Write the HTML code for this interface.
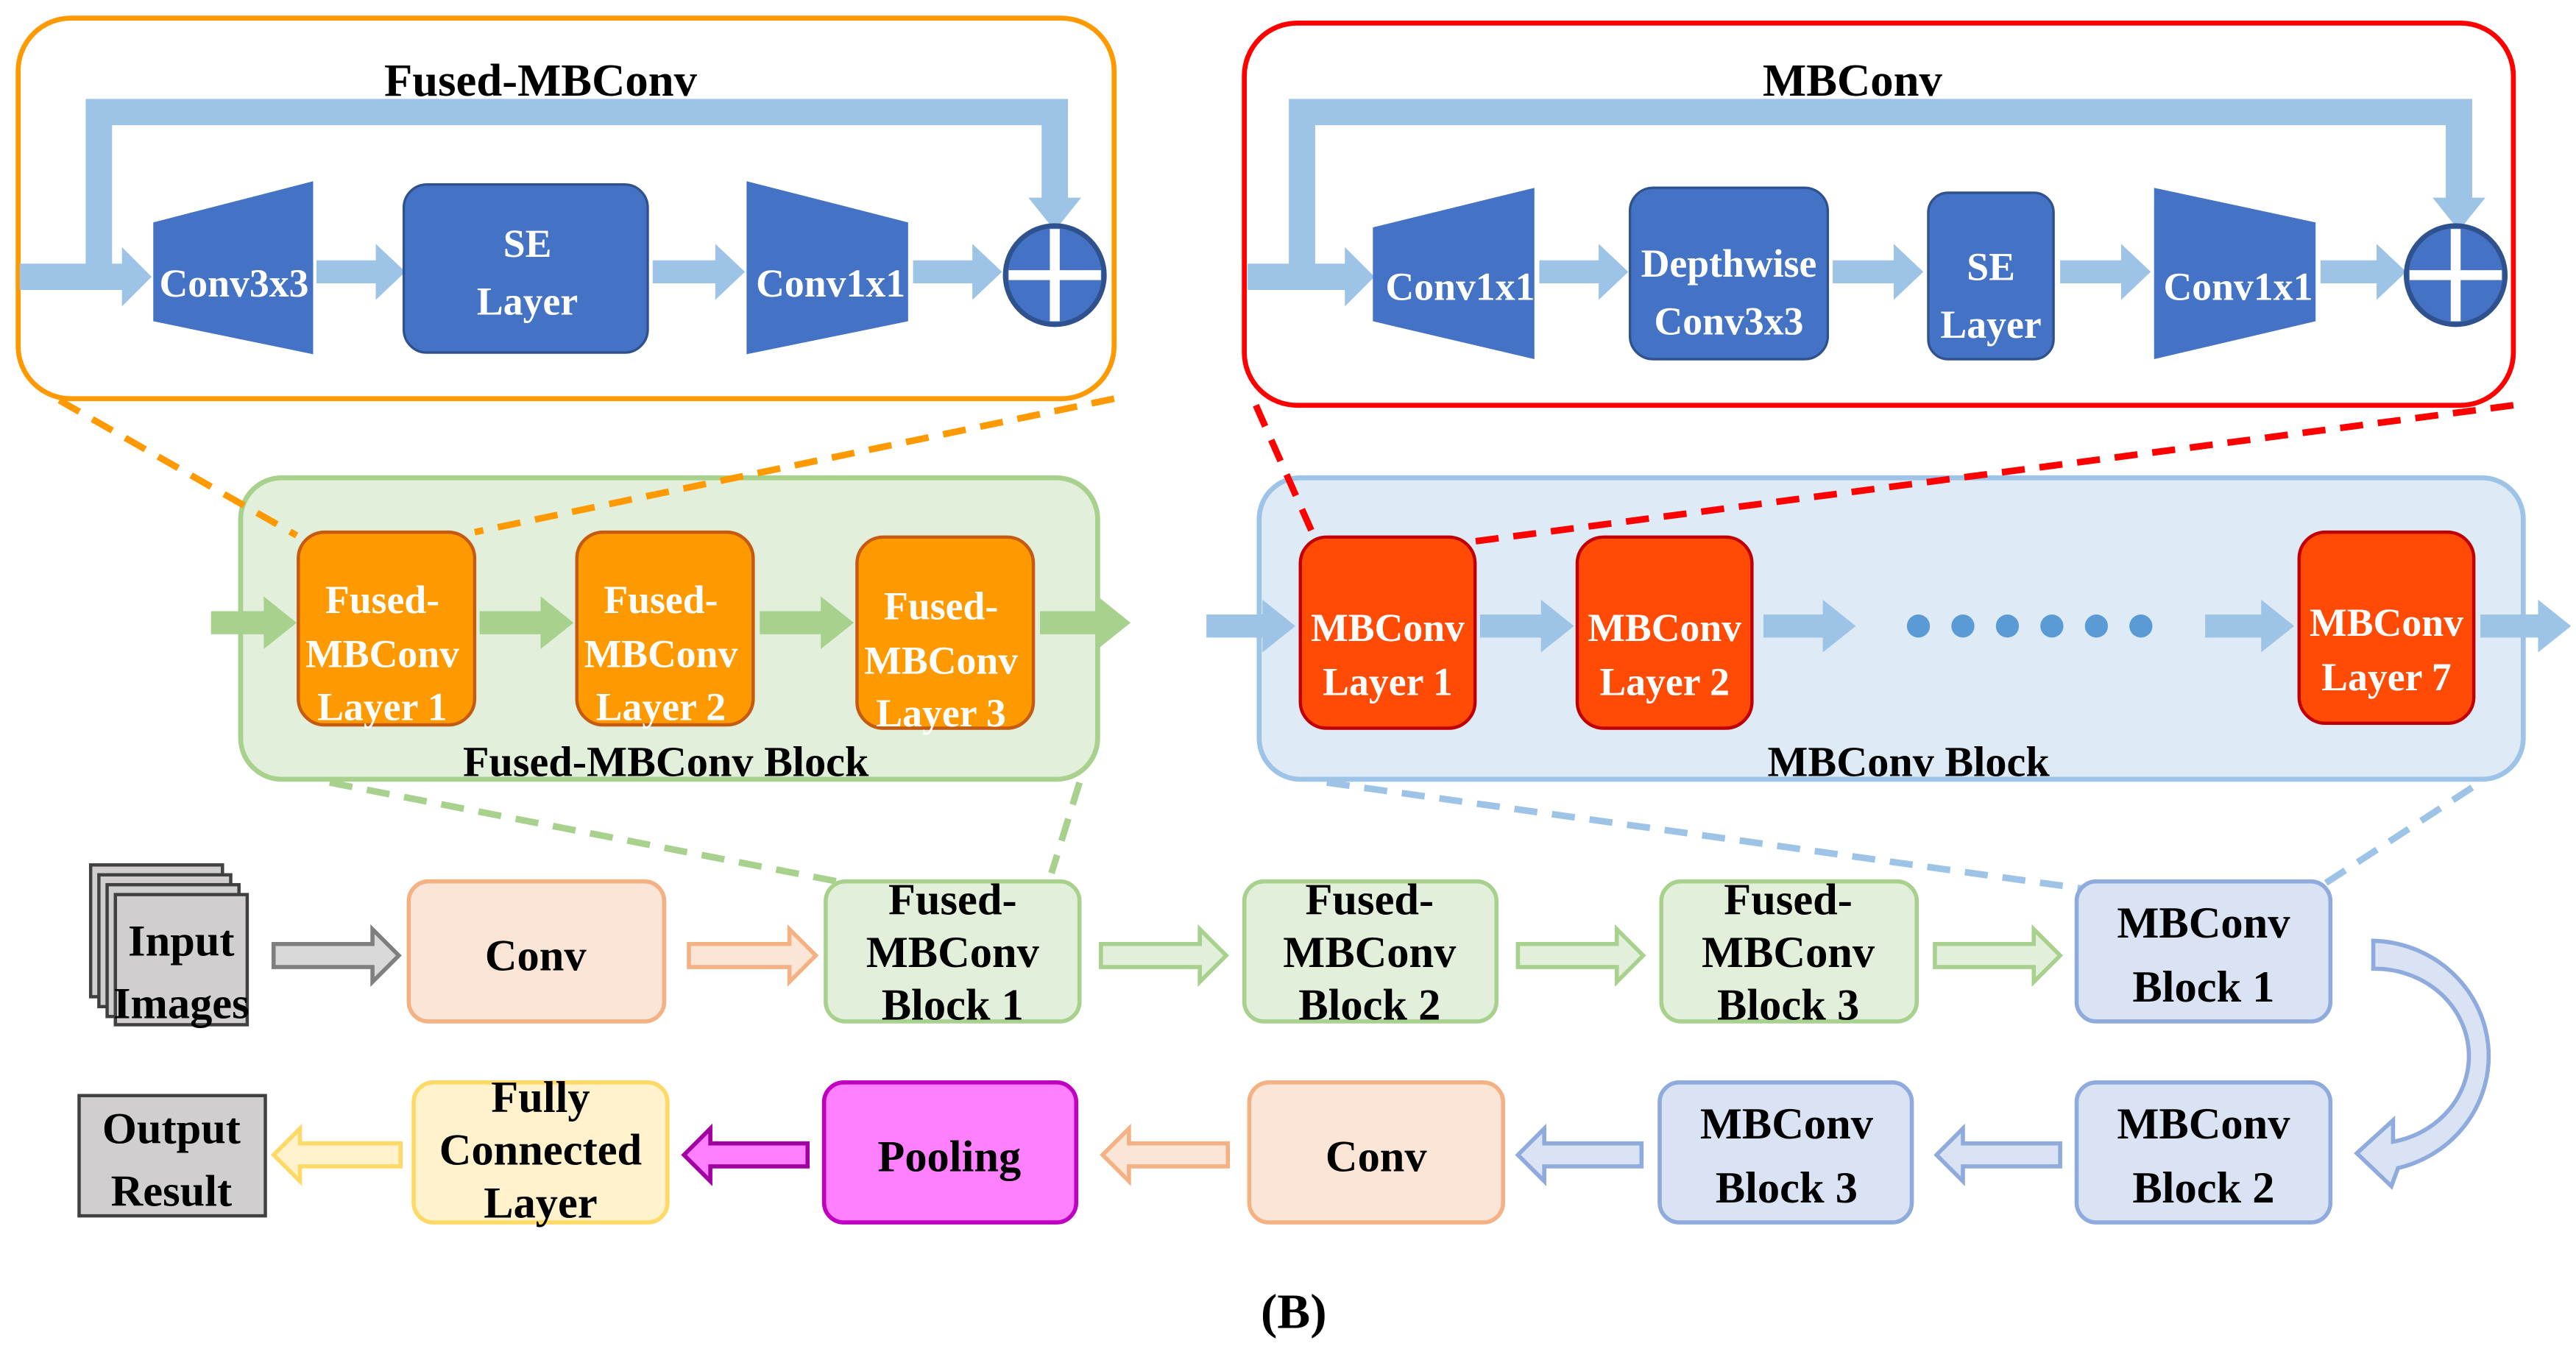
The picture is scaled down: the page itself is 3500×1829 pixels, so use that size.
<!DOCTYPE html>
<html><head><meta charset="utf-8"><style>
html,body{margin:0;padding:0;background:#fff;}
svg{display:block;}
</style></head><body>
<svg width="3500" height="1829" viewBox="0 0 1563 817" preserveAspectRatio="none" xmlns="http://www.w3.org/2000/svg" font-family="'Liberation Serif', 'DejaVu Serif', serif" font-weight="bold">
<defs>
<g id="circ"><circle r="30" fill="#4472C4" stroke="#2F528F" stroke-width="3"/><rect x="-3" y="-28" width="6" height="56" fill="#fff"/><rect x="-28" y="-3" width="56" height="6" fill="#fff"/></g>
</defs>

<!-- Fused-MBConv top -->
<rect x="11" y="11" width="665" height="231" rx="32" fill="#fff" stroke="#FF9900" stroke-width="3"/>
<text x="328" y="58" font-size="28" text-anchor="middle">Fused-MBConv</text>
<g fill="#9DC3E6">
<path d="M12,160 H52 V60 H648 V120 H656 L640,140 L624,120 H632 V76 H68 V160 H74 V150 L92,168 L74,186 V176 H12 Z"/>
<path d="M192,158 H228 V148 L246,165 L228,182 V172 H192 Z"/>
<path d="M396,158 H434 V148 L452,165 L434,182 V172 H396 Z"/>
<path d="M554,158 H590 V148 L608,165 L590,182 V172 H554 Z"/>
</g>
<polygon points="93,135 190,110 190,215 93,195" fill="#4472C4"/>
<text x="142" y="180" font-size="24" fill="#fff" text-anchor="middle">Conv3x3</text>
<rect x="245" y="112" width="148" height="102" rx="14" fill="#4472C4" stroke="#2F528F" stroke-width="1.5"/>
<text x="320" y="156" font-size="24" fill="#fff" text-anchor="middle">SE</text>
<text x="320" y="191" font-size="24" fill="#fff" text-anchor="middle">Layer</text>
<polygon points="453,110 551,135 551,195 453,215" fill="#4472C4"/>
<text x="504" y="180" font-size="24" fill="#fff" text-anchor="middle">Conv1x1</text>
<use href="#circ" x="640" y="167"/>

<!-- MBConv top -->
<rect x="755" y="14" width="770" height="232" rx="32" fill="#fff" stroke="#FF0000" stroke-width="3"/>
<text x="1124" y="58" font-size="28" text-anchor="middle">MBConv</text>
<g fill="#9DC3E6">
<path d="M757,160 H782 V60 H1500 V120 H1508 L1492,140 L1476,120 H1484 V76 H798 V160 H816 V150 L834,168 L816,186 V176 H757 Z"/>
<path d="M934,158 H970 V148 L988,165 L970,182 V172 H934 Z"/>
<path d="M1112,158 H1149 V148 L1167,165 L1149,182 V172 H1112 Z"/>
<path d="M1250,158 H1287 V148 L1305,165 L1287,182 V172 H1250 Z"/>
<path d="M1408,158 H1442 V148 L1460,165 L1442,182 V172 H1408 Z"/>
</g>
<polygon points="833,138 931,114 931,218 833,195" fill="#4472C4"/>
<text x="886" y="182" font-size="24" fill="#fff" text-anchor="middle">Conv1x1</text>
<rect x="989" y="114" width="120" height="104" rx="14" fill="#4472C4" stroke="#2F528F" stroke-width="1.5"/>
<text x="1049" y="168" font-size="24" fill="#fff" text-anchor="middle">Depthwise</text>
<text x="1049" y="203" font-size="24" fill="#fff" text-anchor="middle">Conv3x3</text>
<rect x="1170" y="117" width="76" height="101" rx="12" fill="#4472C4" stroke="#2F528F" stroke-width="1.5"/>
<text x="1208" y="170" font-size="24" fill="#fff" text-anchor="middle">SE</text>
<text x="1208" y="205" font-size="24" fill="#fff" text-anchor="middle">Layer</text>
<polygon points="1307,114 1405,135 1405,195 1307,218" fill="#4472C4"/>
<text x="1358" y="182" font-size="24" fill="#fff" text-anchor="middle">Conv1x1</text>
<use href="#circ" x="1490" y="167"/>

<!-- Fused block -->
<rect x="146" y="290" width="520" height="183" rx="25" fill="#E2EFDA" stroke="#A9D18E" stroke-width="3"/>
<g fill="#A9D18E">
<path d="M128,371 H160 V362 L180,378 L160,394 V385 H128 Z"/>
<path d="M291,371 H328 V362 L348,378 L328,394 V385 H291 Z"/>
<path d="M461,371 H498 V362 L518,378 L498,394 V385 H461 Z"/>
<path d="M631,371 H666 V362 L686,378 L666,394 V385 H631 Z"/>
</g>

<!-- MBConv block -->
<rect x="764" y="290" width="767" height="183" rx="25" fill="#DEEBF7" stroke="#9DC3E6" stroke-width="3"/>
<g fill="#9DC3E6">
<path d="M732,373 H766 V364 L786,380 L766,396 V387 H732 Z"/>
<path d="M898,373 H935 V364 L955,380 L935,396 V387 H898 Z"/>
<path d="M1070,373 H1106 V364 L1126,380 L1106,396 V387 H1070 Z"/>
<path d="M1338,373 H1372 V364 L1392,380 L1372,396 V387 H1338 Z"/>
<path d="M1505,373 H1540 V364 L1560,380 L1540,396 V387 H1505 Z"/>
</g>
<g fill="#5B9BD5"><circle cx="1164" cy="380" r="7"/><circle cx="1191" cy="380" r="7"/><circle cx="1218" cy="380" r="7"/><circle cx="1245" cy="380" r="7"/><circle cx="1272" cy="380" r="7"/><circle cx="1299" cy="380" r="7"/></g>

<!-- dashed connectors -->
<g stroke-width="4" stroke-dasharray="14,9" fill="none">
<line x1="36" y1="243" x2="180" y2="325" stroke="#FF9900"/>
<line x1="676" y1="242" x2="288" y2="323" stroke="#FF9900"/>
<line x1="762" y1="246" x2="797" y2="325" stroke="#FF0000"/>
<line x1="1525" y1="246" x2="884" y2="330" stroke="#FF0000"/>
<line x1="200" y1="475" x2="508" y2="535" stroke="#A9D18E"/>
<line x1="655" y1="475" x2="638" y2="530" stroke="#A9D18E"/>
<line x1="805" y1="475" x2="1268" y2="540" stroke="#9DC3E6"/>
<line x1="1500" y1="478" x2="1405" y2="540" stroke="#9DC3E6"/>
</g>

<g fill="#FF9900" stroke="#C55A11" stroke-width="2">
<rect x="181" y="323" width="107" height="117" rx="16"/>
<rect x="350" y="323" width="107" height="117" rx="16"/>
<rect x="520" y="326" width="107" height="116" rx="16"/>
</g>
<g font-size="24" fill="#fff" text-anchor="middle">
<text x="232" y="372">Fused-</text><text x="232" y="405">MBConv</text><text x="232" y="437">Layer 1</text>
<text x="401" y="372">Fused-</text><text x="401" y="405">MBConv</text><text x="401" y="437">Layer 2</text>
<text x="571" y="376">Fused-</text><text x="571" y="409">MBConv</text><text x="571" y="441">Layer 3</text>
</g>
<text x="404" y="471" font-size="26" text-anchor="middle">Fused-MBConv Block</text>
<g fill="#FF4B05" stroke="#C00000" stroke-width="2">
<rect x="789" y="326" width="106" height="116" rx="16"/>
<rect x="957" y="326" width="106" height="116" rx="16"/>
<rect x="1395" y="323" width="106" height="116" rx="16"/>
</g>
<g font-size="24" fill="#fff" text-anchor="middle">
<text x="842" y="389">MBConv</text><text x="842" y="422">Layer 1</text>
<text x="1010" y="389">MBConv</text><text x="1010" y="422">Layer 2</text>
<text x="1448" y="386">MBConv</text><text x="1448" y="419">Layer 7</text>
</g>
<text x="1158" y="471" font-size="26" text-anchor="middle">MBConv Block</text>

<!-- Input images -->
<g fill="#D0CECE" stroke="#404040" stroke-width="2">
<rect x="55" y="525" width="80" height="80"/>
<rect x="60" y="531" width="80" height="80"/>
<rect x="65" y="537" width="80" height="80"/>
<rect x="70" y="543" width="80" height="79"/>
</g>
<text x="110" y="580" font-size="27" text-anchor="middle">Input</text>
<text x="110" y="618" font-size="27" text-anchor="middle">Images</text>

<!-- hollow arrows -->
<g stroke-width="2.5">
<path d="M166,573 H226 V564 L242,580 L226,596 V587 H166 Z" fill="#D9D9D9" stroke="#7F7F7F"/>
<path d="M418,573 H479 V564 L495,580 L479,596 V587 H418 Z" fill="#FBE5D6" stroke="#F4B183"/>
<path d="M668,573 H728 V564 L744,580 L728,596 V587 H668 Z" fill="#E2EFDA" stroke="#A9D18E"/>
<path d="M921,573 H981 V564 L997,580 L981,596 V587 H921 Z" fill="#E2EFDA" stroke="#A9D18E"/>
<path d="M1174,573 H1234 V564 L1250,580 L1234,596 V587 H1174 Z" fill="#E2EFDA" stroke="#A9D18E"/>
<path d="M1250,694 H1191 V685 L1175,701 L1191,717 V708 H1250 Z" fill="#DAE3F3" stroke="#8FAADC"/>
<path d="M996,694 H937 V685 L921,701 L937,717 V708 H996 Z" fill="#DAE3F3" stroke="#8FAADC"/>
<path d="M745,694 H685 V685 L669,701 L685,717 V708 H745 Z" fill="#FBE5D6" stroke="#F4B183"/>
<path d="M490,694 H431 V685 L415,701 L431,717 V708 H490 Z" fill="#FF80FF" stroke="#A000A0"/>
<path d="M243,694 H182 V685 L166,701 L182,717 V708 H243 Z" fill="#FFF2CC" stroke="#FFD966"/>
<path d="M1440,571 A72,70 0 0 1 1455,709 L1451,720 L1430,700 L1452,680 L1452,693 A57,53 0 0 0 1440,588 Z" fill="#DAE3F3" stroke="#8FAADC"/>
</g>

<!-- boxes -->
<g stroke-width="2.5">
<rect x="248" y="535" width="155" height="85" rx="12" fill="#FBE5D6" stroke="#F4B183"/>
<rect x="501" y="535" width="154" height="85" rx="12" fill="#E2EFDA" stroke="#A9D18E"/>
<rect x="755" y="535" width="153" height="85" rx="12" fill="#E2EFDA" stroke="#A9D18E"/>
<rect x="1008" y="535" width="155" height="85" rx="12" fill="#E2EFDA" stroke="#A9D18E"/>
<rect x="1260" y="535" width="154" height="85" rx="12" fill="#DAE3F3" stroke="#8FAADC"/>
<rect x="1260" y="657" width="154" height="85" rx="12" fill="#DAE3F3" stroke="#8FAADC"/>
<rect x="1007" y="657" width="153" height="85" rx="12" fill="#DAE3F3" stroke="#8FAADC"/>
<rect x="758" y="657" width="154" height="85" rx="12" fill="#FBE5D6" stroke="#F4B183"/>
<rect x="500" y="657" width="153" height="85" rx="12" fill="#FF80FF" stroke="#C000C0"/>
<rect x="251" y="657" width="154" height="85" rx="12" fill="#FFF2CC" stroke="#FFD966"/>
<rect x="48" y="665" width="113" height="73" fill="#D0CECE" stroke="#404040" stroke-width="2"/>
</g>
<g font-size="27" text-anchor="middle">
<text x="325" y="589">Conv</text>
<text x="578" y="555">Fused-</text><text x="578" y="587">MBConv</text><text x="578" y="619">Block 1</text>
<text x="831" y="555">Fused-</text><text x="831" y="587">MBConv</text><text x="831" y="619">Block 2</text>
<text x="1085" y="555">Fused-</text><text x="1085" y="587">MBConv</text><text x="1085" y="619">Block 3</text>
<text x="1337" y="569">MBConv</text><text x="1337" y="608">Block 1</text>
<text x="1337" y="691">MBConv</text><text x="1337" y="730">Block 2</text>
<text x="1084" y="691">MBConv</text><text x="1084" y="730">Block 3</text>
<text x="835" y="711">Conv</text>
<text x="576" y="711">Pooling</text>
<text x="328" y="675">Fully</text><text x="328" y="707">Connected</text><text x="328" y="739">Layer</text>
<text x="104" y="694">Output</text><text x="104" y="732">Result</text>
<text x="785" y="806" font-size="30">(B)</text>
</g>
</svg>
</body></html>
